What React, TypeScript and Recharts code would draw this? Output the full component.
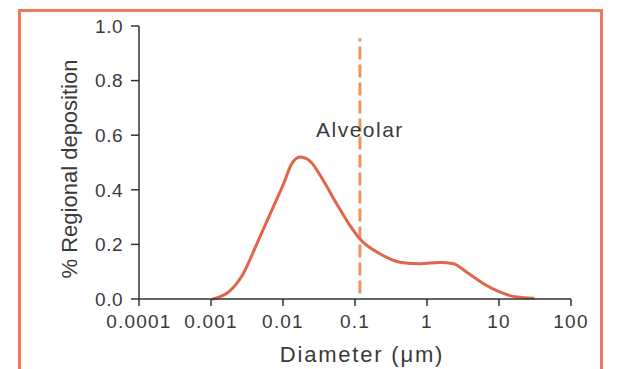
import { LineChart, Line, XAxis, YAxis, ReferenceLine, ReferenceDot, Label } from "recharts";

// diameter (µm) and regional deposition fraction
const diameters = [0.00107, 0.00183, 0.00279, 0.0043, 0.00658, 0.0101, 0.0132, 0.0172, 0.0237, 0.0363, 0.0556, 0.085, 0.117, 0.222, 0.42, 0.8, 1.52, 2.33, 3.57, 6.1, 10.4, 17.8, 30];
const deposition = [0, 0.03, 0.092, 0.2, 0.31, 0.42, 0.495, 0.52, 0.505, 0.434, 0.349, 0.27, 0.22, 0.166, 0.135, 0.129, 0.134, 0.129, 0.098, 0.056, 0.025, 0.007, 0.003];

const xTicks = [0.0001, 0.001, 0.01, 0.1, 1, 10, 100];
const xTickLabels = ["0.0001", "0.001", "0.01", "0.1", "1", "10", "100"];
const yTicks = [0, 0.2, 0.4, 0.6, 0.8, 1.0];

const alveolarX = 0.117;
const alveolarSpan = [0.02, 0.955];
const alveolarLabelY = 0.62;

const data = diameters.map((d, i) => ({ d, dep: deposition[i] }));

const FONT = "'Liberation Sans', Arial, Helvetica, sans-serif";
const TEXT = "#3a3a3a";
const AXIS = "#333";
const CURVE = "#e0654a";
const DASH = "#e99660";

export default function App() {
  return (
    <div style={{ position: "absolute", left: 0, top: 0, width: 619, height: 369, overflow: "hidden", background: "#fff" }}>
      <div
        style={{
          position: "absolute",
          left: 18,
          top: 9,
          width: 585,
          height: 420,
          boxSizing: "border-box",
          border: "3px solid #ee7a5e",
        }}
      />
      <LineChart
        width={619}
        height={369}
        data={data}
        margin={{ top: 26, right: 48, bottom: 40, left: 0 }}
        style={{ position: "absolute", left: 0, top: 0, fontFamily: FONT }}
      >
        <XAxis
          dataKey="d"
          type="number"
          scale="log"
          domain={[0.0001, 100]}
          ticks={xTicks}
          allowDataOverflow
          height={30}
          tickFormatter={(v: number) => xTickLabels[xTicks.indexOf(v)] ?? String(v)}
          tick={{ fill: TEXT, fontSize: 19, letterSpacing: 1.2 }}
          tickSize={7}
          tickMargin={9}
          stroke={AXIS}
          strokeWidth={1.5}
        >
          <Label
            content={() => (
              <text x={362} y={362} textAnchor="middle" fill={TEXT} fontSize={22} letterSpacing={1.8} fontFamily={FONT}>
                Diameter (μm)
              </text>
            )}
          />
        </XAxis>
        <YAxis
          type="number"
          domain={[0, 1]}
          ticks={yTicks}
          width={139}
          tickFormatter={(v: number) => v.toFixed(1)}
          tick={{ fill: TEXT, fontSize: 19, letterSpacing: 0.5 }}
          tickSize={8}
          tickMargin={8}
          stroke={AXIS}
          strokeWidth={1.5}
        >
          <Label
            content={() => (
              <text
                x={0}
                y={0}
                transform="translate(77,169) rotate(-90)"
                textAnchor="middle"
                fill={TEXT}
                fontSize={22}
                fontFamily={FONT}
              >
                % Regional deposition
              </text>
            )}
          />
        </YAxis>
        <ReferenceLine
          segment={[
            { x: alveolarX, y: alveolarSpan[0] },
            { x: alveolarX, y: alveolarSpan[1] },
          ]}
          stroke={DASH}
          strokeWidth={3}
          strokeDasharray="13 5"
          ifOverflow="visible"
        />
        <ReferenceDot
          x={alveolarX}
          y={alveolarLabelY}
          r={0}
          fill="none"
          stroke="none"
          label={{ value: "Alveolar", position: "center", fill: TEXT, fontSize: 21, letterSpacing: 1.5, fontFamily: FONT }}
        />
        <Line
          type="monotone"
          dataKey="dep"
          stroke={CURVE}
          strokeWidth={3}
          strokeLinecap="round"
          dot={false}
          isAnimationActive={false}
        />
      </LineChart>
    </div>
  );
}
